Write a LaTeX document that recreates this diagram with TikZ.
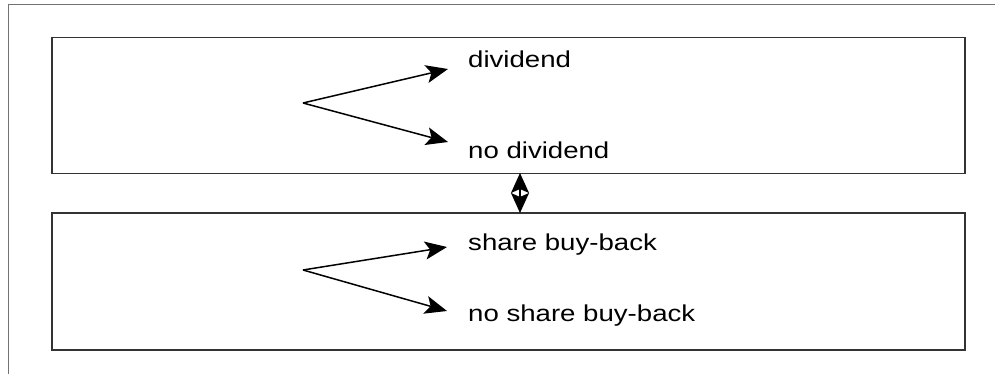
\documentclass[tikz,border=0pt]{standalone}
\usepackage{fontspec}
\setmainfont{Liberation Sans}[FakeStretch=1.2]
\usetikzlibrary{arrows.meta}
\begin{document}
\begin{tikzpicture}[x=1pt,y=-1pt,
  box/.style={draw=black!80, line width=1.2pt, minimum width=913pt, inner sep=0pt},
  lbl/.style={anchor=base west, inner sep=0pt, font=\fontsize{23}{27}\selectfont},
  branch/.style={line width=1.5pt, -{Stealth[length=22pt,width=18pt,inset=5pt]}},
  dbl/.style={line width=1.5pt, {Stealth[length=20pt,width=18pt,inset=4pt]}-{Stealth[length=20pt,width=18pt,inset=4pt]}}]
\useasboundingbox (0,0) rectangle (995,374);
% outer frame (partly outside the picture)
\draw[black!55, line width=1.2pt] (8.5,374) -- (8.5,4.5) -- (995,4.5);
% boxes
\node[box, minimum height=136pt] (b1) at (508.5,105.5) {};
\node[box, minimum height=137pt] (b2) at (508.5,281.5) {};
% upper box
\coordinate (o1) at (303,103);
\coordinate (t1a) at (448,69);
\coordinate (t1b) at (448,142);
\node[lbl] (l1a) at (468,68) {dividend};
\node[lbl] (l1b) at (468,159) {no dividend};
\draw[branch] (o1) -- (t1a);
\draw[branch] (o1) -- (t1b);
% lower box
\coordinate (o2) at (303,270);
\coordinate (t2a) at (447,247);
\coordinate (t2b) at (447,311);
\node[lbl] (l2a) at (468,250) {share buy-back};
\node[lbl] (l2b) at (468,321) {no share buy-back};
\draw[branch] (o2) -- (t2a);
\draw[branch] (o2) -- (t2b);
% link between boxes
\coordinate (d1) at (520,173);
\coordinate (d2) at (520,213);
\draw[dbl] (d1) -- (d2);
\end{tikzpicture}
\end{document}
